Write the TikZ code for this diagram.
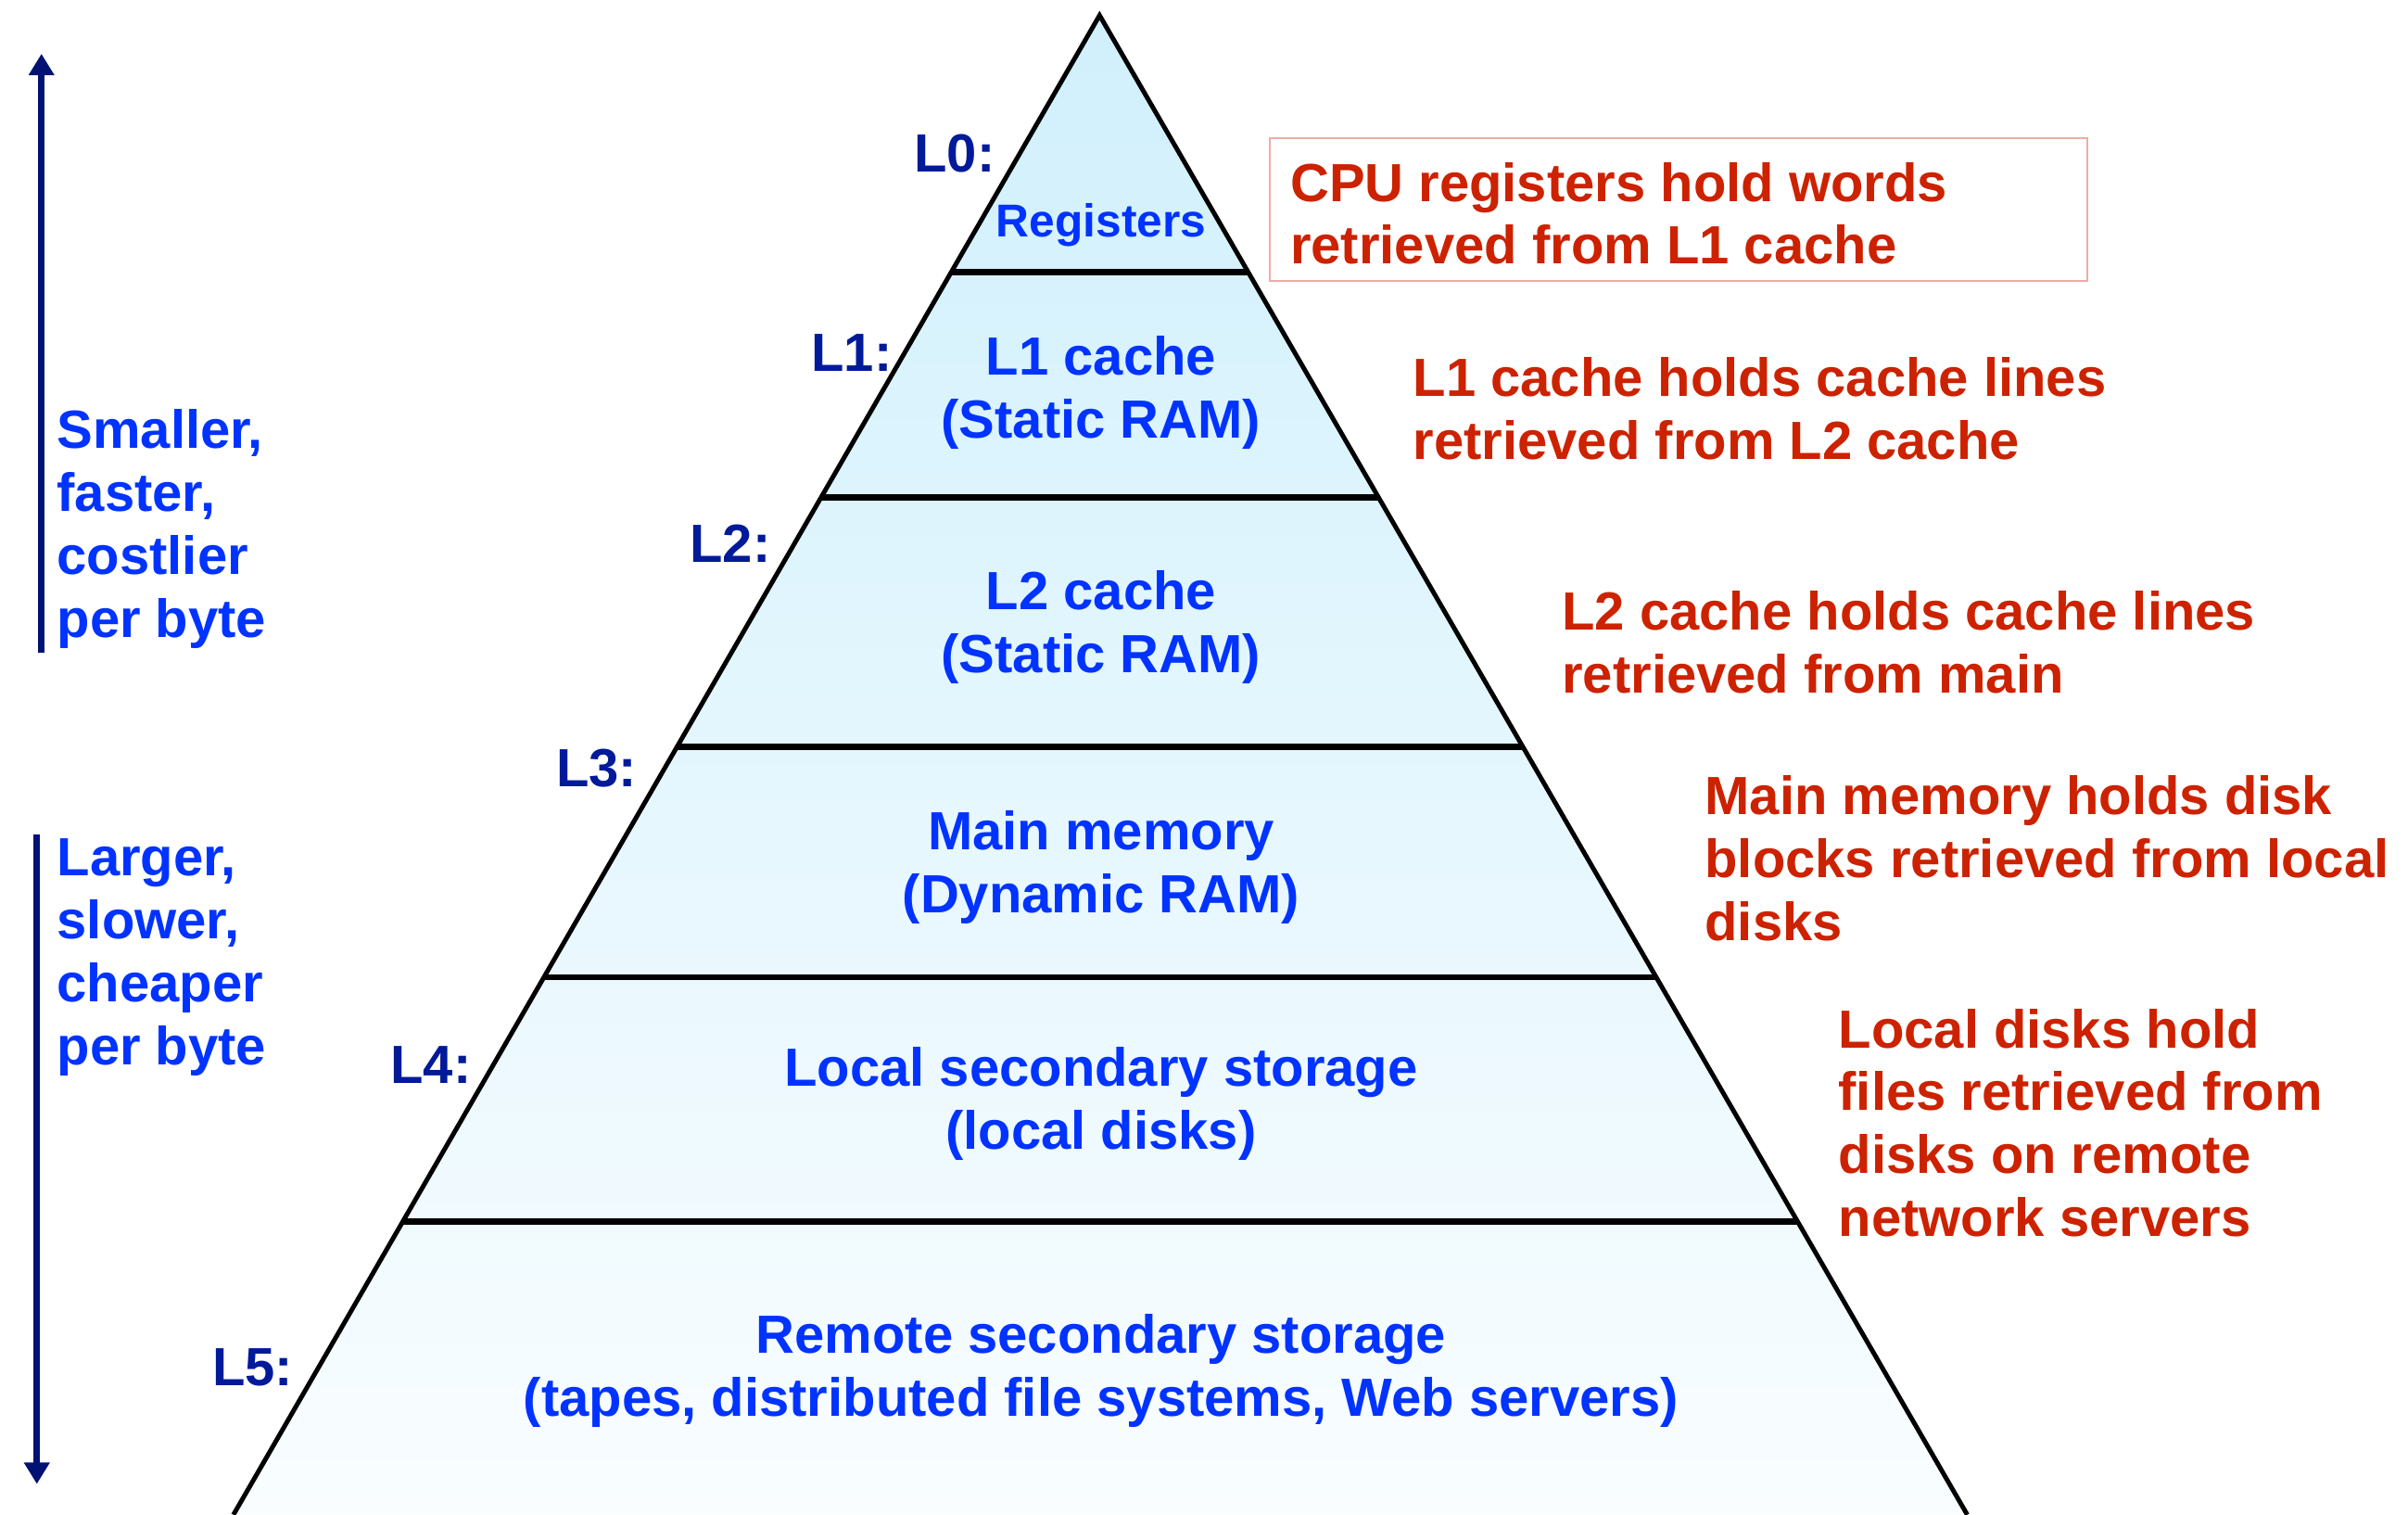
\documentclass[tikz,border=0pt]{standalone}
\usepackage{fontspec}
\setmainfont{Liberation Sans}
\usetikzlibrary{arrows.meta,positioning,calc}

\definecolor{lvlblue}{RGB}{0,26,153}
\definecolor{txtblue}{RGB}{0,51,255}
\definecolor{notered}{RGB}{204,34,0}
\definecolor{trendblue}{RGB}{0,18,115}
\definecolor{calloutedge}{RGB}{238,172,166}
\definecolor{filltop}{RGB}{208,240,252}
\definecolor{fillbottom}{RGB}{249,253,255}

\begin{document}
\begin{tikzpicture}[
  x=1pt, y=-1pt,
  big/.style={font=\fontsize{35}{41}\selectfont\bfseries},
  % multi-line nodes sit on the baseline of their last line
  layer/.style={big, text=txtblue, align=center, inner sep=0pt, anchor=base},
  level/.style={big, text=lvlblue, inner sep=0pt, anchor=base east},
  note/.style={big, text=notered, align=left, inner sep=0pt, anchor=base west},
  side/.style={big, text=txtblue, align=left, inner sep=0pt, anchor=base west},
  edge/.style={line width=3pt, line join=miter},
  divider/.style={line width=4pt},
  callout/.style={draw=calloutedge, line width=1.2pt},
  trend/.style={-{Triangle[width=16pt,length=14pt]}, line width=4.5pt, draw=trendblue},
]
\useasboundingbox (0,0) rectangle (1568,986);

% pyramid body
\coordinate (apex) at (716,10);
\coordinate (bl) at (152,986);
\coordinate (br) at (1281,986);
\shade[top color=filltop, bottom color=fillbottom] (apex) -- (br) -- (bl) -- cycle;
\foreach \t in {0.1711,0.3217,0.4877,0.6414,0.8043}
  \draw[divider] ($(apex)!\t!(bl)$) -- ($(apex)!\t!(br)$);
\draw[edge] (bl) -- (apex) -- (br);

% storage levels
\node[layer, font=\fontsize{30}{36}\selectfont\bfseries] (reg) at (717,154) {Registers};
\node[layer] (lone) at (717,285) {L1 cache\\(Static RAM)};
\node[layer] (ltwo) at (717,438) {L2 cache\\(Static RAM)};
\node[layer] (mem) at (717,594) {Main memory\\(Dynamic RAM)};
\node[layer] (local) at (717,748) {Local secondary storage\\(local disks)};
\node[layer] (remote) at (717,922) {Remote secondary storage\\(tapes, distributed file systems, Web servers)};

% level tags
\node[level] (l0) at (648,112) {L0:};
\node[level] (l1) at (581,242) {L1:};
\node[level] (l2) at (502,366) {L2:};
\node[level] (l3) at (415,512) {L3:};
\node[level] (l4) at (307,705) {L4:};
\node[level] (l5) at (191,902) {L5:};

% what each level caches
\draw[callout] (827,90) rectangle (1359,183);
\node[note] (n0) at (840,172) {CPU registers hold words\\retrieved from L1 cache};
\node[note] (n1) at (920,299) {L1 cache holds cache lines\\retrieved from L2 cache};
\node[note] (n2) at (1017,451) {L2 cache holds cache lines\\retrieved from main};
\node[note] (n3) at (1110,612) {Main memory holds disk\\blocks retrieved from local\\disks};
\node[note] (n4) at (1197,805) {Local disks hold\\files retrieved from\\disks on remote\\network servers};

% trend arrows
\coordinate (upfrom) at (27,425);
\coordinate (upto) at (27,35);
\coordinate (downfrom) at (24,543);
\coordinate (downto) at (24,966);
\draw[trend] (upfrom) -- (upto);
\draw[trend] (downfrom) -- (downto);
\node[side] (fast) at (37,415) {Smaller,\\faster,\\costlier\\per byte};
\node[side] (slow) at (37,693) {Larger,\\slower,\\cheaper\\per byte};

\end{tikzpicture}
\end{document}
